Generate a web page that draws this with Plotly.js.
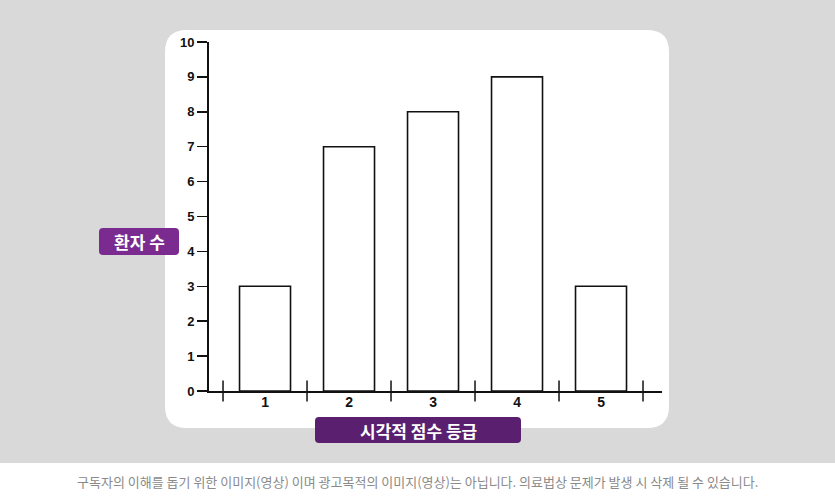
<!DOCTYPE html>
<html>
<head>
<meta charset="utf-8">
<script src="https://cdn.plot.ly/plotly-3.0.1.min.js"></script>
<style>html,body{margin:0;padding:0;background:#d9d9d9;}#chart{width:835px;height:501px;}</style>
</head>
<body>
<div id="chart"></div>
<script>
// ---- data ----
const categories = [1, 2, 3, 4, 5];
const patientCounts = [3, 7, 8, 9, 3];
const xTickLabels = ['1', '2', '3', '4', '5'];
const yTickValues = [0, 1, 2, 3, 4, 5, 6, 7, 8, 9, 10];
const yTitleText = '환자 수';
const xTitleText = '시각적 점수 등급';
const captionText = '구독자의 이해를 돕기 위한 이미지(영상) 이며 광고목적의 이미지(영상)는 아닙니다. 의료법상 문제가 발생 시 삭제 될 수 있습니다.';

// boundaries between categories (for the crossing tick marks)
const boundaries = categories.map(c => c - 0.5).concat([categories[categories.length - 1] + 0.5]);

// ---- layout geometry (pixels) ----
const W = 835, H = 501;
const L = 209, R = 662, T = 42, B = 391;
const px = x => (x - L) / (R - L);
const py = y => (B - y) / (B - T);

function roundRect(x0, y0, x1, y1, r) {
  const X = v => px(v), Y = v => py(v);
  return 'M' + X(x0 + r) + ',' + Y(y0) +
    ' L' + X(x1 - r) + ',' + Y(y0) +
    ' Q' + X(x1) + ',' + Y(y0) + ' ' + X(x1) + ',' + Y(y0 + r) +
    ' L' + X(x1) + ',' + Y(y1 - r) +
    ' Q' + X(x1) + ',' + Y(y1) + ' ' + X(x1 - r) + ',' + Y(y1) +
    ' L' + X(x0 + r) + ',' + Y(y1) +
    ' Q' + X(x0) + ',' + Y(y1) + ' ' + X(x0) + ',' + Y(y1 - r) +
    ' L' + X(x0) + ',' + Y(y0 + r) +
    ' Q' + X(x0) + ',' + Y(y0) + ' ' + X(x0 + r) + ',' + Y(y0) + ' Z';
}

const numFont = {family: '"Liberation Sans Narrow", "Arial Narrow", "Liberation Sans", Arial, sans-serif', size: 14, color: '#111', weight: 'bold'};
const krFont = '"Noto Sans CJK KR", "Noto Sans", sans-serif';

const traces = [
  {
    type: 'bar',
    x: categories,
    y: patientCounts,
    width: 0.607,
    marker: {color: '#ffffff', line: {color: '#111111', width: 1.6}},
    hoverinfo: 'skip'
  },
  {
    type: 'scatter',
    mode: 'markers',
    x: boundaries,
    y: boundaries.map(() => 0),
    marker: {symbol: 'line-ns', size: 15, line: {color: '#111111', width: 1.5}},
    cliponaxis: false,
    hoverinfo: 'skip'
  }
];

const layout = {
  width: W, height: H,
  margin: {l: L, r: W - R, t: T, b: H - B, pad: 0},
  paper_bgcolor: '#d9d9d9',
  plot_bgcolor: 'rgba(0,0,0,0)',
  showlegend: false,
  xaxis: {
    range: [0.333, 5.726],
    tickvals: categories,
    ticktext: xTickLabels,
    ticks: '',
    ticklabelstandoff: -2,
    showgrid: false, zeroline: false,
    showline: true, linecolor: '#111', linewidth: 1.5,
    tickfont: numFont,
    fixedrange: true
  },
  yaxis: {
    range: [0, 10],
    tickvals: yTickValues,
    ticks: 'outside', ticklen: 10, tickwidth: 1.5, tickcolor: '#111',
    showgrid: false, zeroline: false,
    showline: true, linecolor: '#111', linewidth: 2,
    tickfont: Object.assign({}, numFont, {size: 13}),
    fixedrange: true
  },
  shapes: [
    {type: 'path', xref: 'paper', yref: 'paper', layer: 'below', path: roundRect(165, 30, 669, 428, 22), fillcolor: '#ffffff', line: {width: 0}},
    {type: 'rect', xref: 'paper', yref: 'paper', layer: 'below', x0: px(0), x1: px(W), y0: py(463), y1: py(H + 2), fillcolor: '#ffffff', line: {width: 0}},
    {type: 'path', xref: 'paper', yref: 'paper', layer: 'above', path: roundRect(99, 228, 179, 255, 4), fillcolor: '#7b2b8f', line: {width: 0}},
    {type: 'path', xref: 'paper', yref: 'paper', layer: 'above', path: roundRect(315, 417, 521, 443, 4), fillcolor: '#5b1f6f', line: {width: 0}}
  ],
  annotations: [
    {xref: 'paper', yref: 'paper', x: px(139), y: py(241.5), text: yTitleText, showarrow: false, xanchor: 'center', yanchor: 'middle',
     font: {family: krFont, size: 17, color: '#ffffff', weight: 'bold'}},
    {xref: 'paper', yref: 'paper', x: px(418), y: py(430), text: xTitleText, showarrow: false, xanchor: 'center', yanchor: 'middle',
     font: {family: krFont, size: 17, color: '#ffffff', weight: 'bold'}},
    {xref: 'paper', yref: 'paper', x: px(417), y: py(481), text: captionText, showarrow: false, xanchor: 'center', yanchor: 'middle',
     font: {family: krFont, size: 13, color: '#8a8a8a'}}
  ]
};

Plotly.newPlot('chart', traces, layout, {displayModeBar: false, staticPlot: true});
</script>
</body>
</html>
